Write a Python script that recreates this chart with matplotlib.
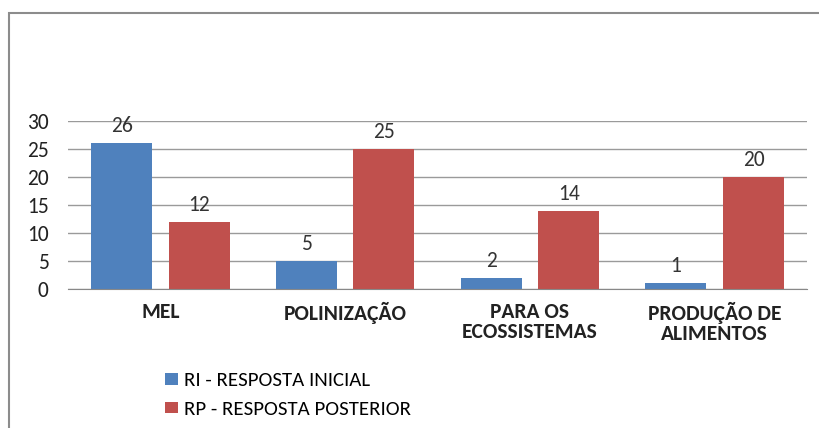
import matplotlib.pyplot as plt
from matplotlib.patches import Rectangle
import numpy as np

plt.rcParams['font.family'] = ['Carlito', 'DejaVu Sans']

categorias = ["MEL", "POLINIZAÇÃO", "PARA OS\nECOSSISTEMAS", "PRODUÇÃO DE\nALIMENTOS"]
ri = [26, 5, 2, 1]
rp = [12, 25, 14, 20]
nome_ri = "RI - RESPOSTA INICIAL"
nome_rp = "RP - RESPOSTA POSTERIOR"

azul = "#4F81BD"
vermelho = "#C0504D"

fig = plt.figure(figsize=(8.19, 4.28), dpi=100)
ax = fig.add_axes([68 / 819, 1 - 289 / 428, 739 / 819, 168 / 428])

# moldura do grafico (topo e lado esquerdo)
fig.patches.append(Rectangle((9 / 819, -0.1), 1.2, 1.1 - 13 / 428, transform=fig.transFigure,
                             fill=False, edgecolor="#8c8c8c", linewidth=1.5))

x = np.arange(len(categorias))
w = 0.33
b1 = ax.bar(x - 0.21, ri, w, color=azul, label=nome_ri)
b2 = ax.bar(x + 0.21, rp, w, color=vermelho, label=nome_rp)

for barras in (b1, b2):
    for r in barras:
        ax.annotate(str(int(r.get_height())), (r.get_x() + r.get_width() / 2, r.get_height()),
                    xytext=(0, 5), textcoords="offset points", ha="center", va="bottom",
                    fontsize=15.5, color="#333333")

ax.set_xlim(-0.5, 3.5)
ax.set_ylim(0, 30)
ax.set_yticks(range(0, 31, 5))
ax.grid(axis="y", color="#9a9a9a", linewidth=1)
ax.set_axisbelow(True)
for s in ("top", "right", "left"):
    ax.spines[s].set_visible(False)
ax.spines["bottom"].set_color("#888888")
ax.tick_params(axis="both", length=0, labelsize=15.5, colors="#222222")
ax.tick_params(axis="y", pad=14)
ax.set_xticks(x)
ax.set_xticklabels(categorias, fontweight="bold", fontsize=15.5, linespacing=1.05)
ax.tick_params(axis="x", pad=9)

fig.legend(handles=[b1, b2], loc="upper left", bbox_to_anchor=(155 / 819, 1 - 362 / 428),
           frameon=False, fontsize=15, handlelength=0.58, handleheight=0.5,
           handletextpad=0.3, labelspacing=0.55, borderpad=0)

fig.savefig("out.png", dpi=100)
